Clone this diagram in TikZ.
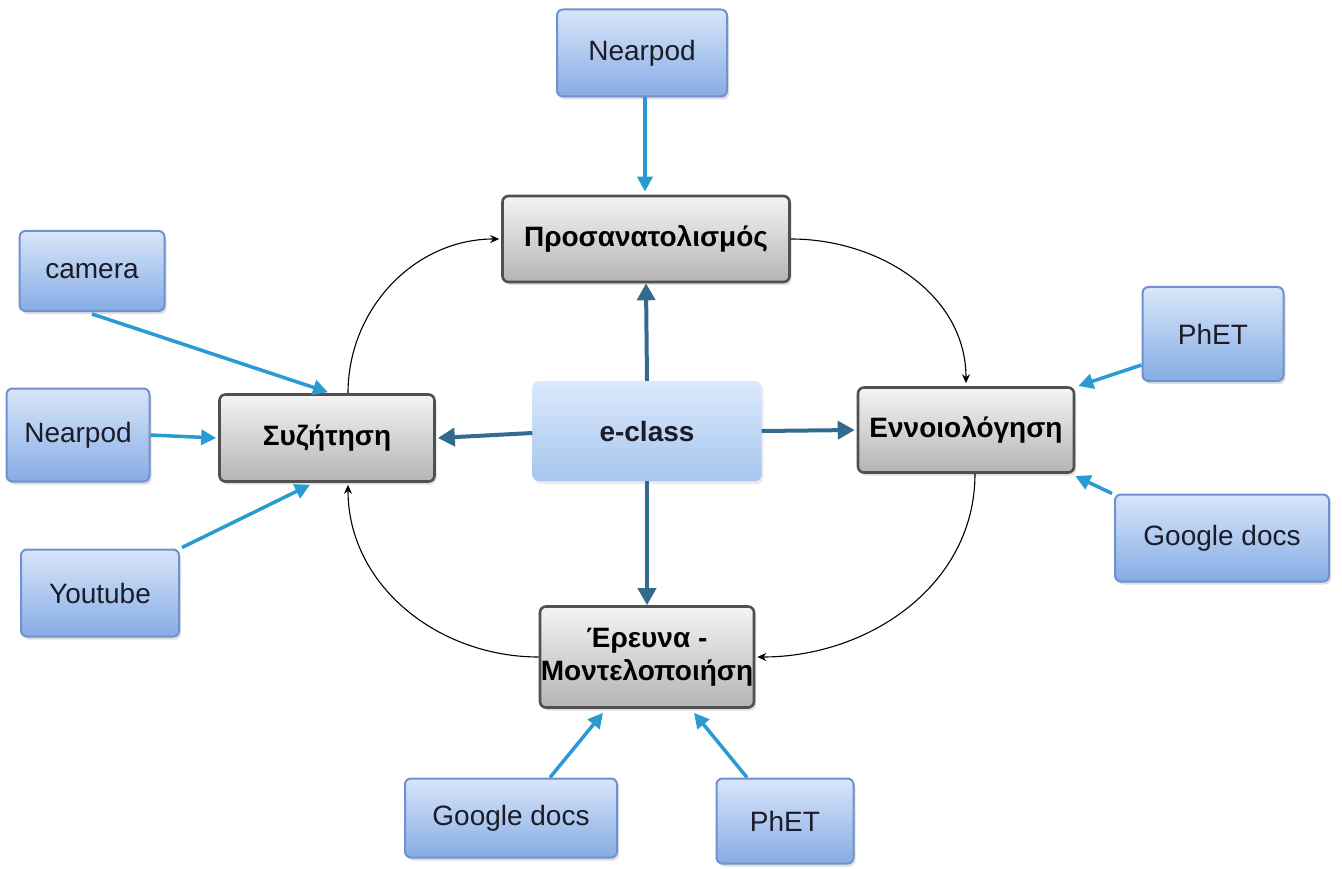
\documentclass[tikz,border=0pt]{standalone}
\usepackage{fontspec}
\setmainfont{Liberation Sans}
\usetikzlibrary{arrows.meta,shadows}
\definecolor{toolTop}{HTML}{D8E6FA}
\definecolor{toolBot}{HTML}{86ACE4}
\definecolor{toolBorder}{HTML}{6E92CC}
\definecolor{phaseTop}{HTML}{F4F4F4}
\definecolor{phaseBot}{HTML}{B4B4B4}
\definecolor{phaseBorder}{HTML}{505050}
\definecolor{hubTop}{HTML}{DCE9FC}
\definecolor{hubBot}{HTML}{A6C5EE}
\definecolor{lightArrow}{HTML}{2A9BD2}
\definecolor{darkArrow}{HTML}{336B8F}
\definecolor{txt}{HTML}{1C1C28}
\begin{document}
\begin{tikzpicture}[x=1pt,y=-1pt,
  tool/.style={draw=toolBorder, line width=2pt, rounded corners=6pt,
    top color=toolTop, bottom color=toolBot, text=txt,
    font=\fontsize{28}{32}\selectfont, inner sep=0pt,
    drop shadow={shadow xshift=2pt, shadow yshift=-3pt, opacity=0.25}},
  phase/.style={draw=phaseBorder, line width=2.6pt, rounded corners=6pt,
    top color=phaseTop, bottom color=phaseBot, text=black,
    font=\bfseries\fontsize{28}{33}\selectfont, inner sep=0pt, align=center,
    drop shadow={shadow xshift=2pt, shadow yshift=-3pt, opacity=0.25}},
  hub/.style={rounded corners=6pt, top color=hubTop, bottom color=hubBot,
    text=txt, font=\bfseries\fontsize{28}{32}\selectfont, inner sep=0pt,
    drop shadow={shadow xshift=2pt, shadow yshift=-3pt, opacity=0.15}},
  feed/.style={draw=lightArrow, line width=3.5pt, -{Triangle[length=15pt,width=15pt]}},
  spoke/.style={draw=darkArrow, line width=4pt, -{Triangle[length=17pt,width=18pt]}},
  cycle/.style={draw=black, line width=1.1pt, -{Stealth[length=9pt,width=8pt]}}
]
\useasboundingbox (0,0) rectangle (1342,869);

% phases
\node[phase, minimum width=287pt, minimum height=86pt] (pros) at (646,239) {Προσανατολισμός};
\node[phase, minimum width=215pt, minimum height=87pt] (syz) at (327,438) {Συζήτηση};
\node[phase, minimum width=216pt, minimum height=85pt] (enn) at (966,430) {Εννοιολόγηση};
\node[phase, minimum width=214pt, minimum height=101pt] (ere) at (647,657) {Έρευνα -\\Μοντελοποιήση};

% hub
\node[hub, minimum width=229pt, minimum height=100pt] (ecl) at (647,431) {e-class};

% tools
\node[tool, minimum width=170pt, minimum height=87pt] (near1) at (642,53) {Nearpod};
\node[tool, minimum width=145pt, minimum height=80pt] (cam) at (92,271) {camera};
\node[tool, minimum width=143pt, minimum height=93pt] (near2) at (78,435) {Nearpod};
\node[tool, minimum width=158pt, minimum height=87pt] (yt) at (100,593) {Youtube};
\node[tool, minimum width=141pt, minimum height=94pt] (phet1) at (1213,334) {PhET};
\node[tool, minimum width=214pt, minimum height=87pt] (gd1) at (1222,538) {Google docs};
\node[tool, minimum width=212pt, minimum height=79pt] (gd2) at (511,818) {Google docs};
\node[tool, minimum width=137pt, minimum height=85pt] (phet2) at (785,821) {PhET};

% feed arrows
\draw[feed] ([xshift=3pt]near1.south) -- ([xshift=-1pt,yshift=3pt]pros.north);
\draw[feed] ([yshift=-2pt]cam.south) -- ([xshift=1pt,yshift=1pt]syz.north);
\draw[feed] (near2.east) -- ([xshift=-2pt]syz.west);
\draw[feed] ([xshift=82pt,yshift=1pt]yt.north) -- ([xshift=-17pt,yshift=-2pt]syz.south);
\draw[feed] ([yshift=-31pt]phet1.west) -- ([xshift=3pt,yshift=44pt]enn.east);
\draw[feed] ([xshift=-110pt]gd1.north) -- ([yshift=-46pt]enn.east);
\draw[feed] ([xshift=39pt]gd2.north) -- ([xshift=-44pt,yshift=-4pt]ere.south);
\draw[feed] ([xshift=-38pt]phet2.north) -- ([xshift=47pt,yshift=-4pt]ere.south);

% spokes
\draw[spoke] (ecl.north) -- (pros.south);
\draw[spoke] ([yshift=-2pt]ecl.west) -- ([xshift=2pt]syz.east);
\draw[spoke] (ecl.east) -- ([xshift=-2pt]enn.west);
\draw[spoke] (ecl.south) -- (ere.north);

% cycle
\draw[cycle] ([xshift=21pt]syz.north) to[out=90,in=180] ([xshift=-2pt]pros.west);
\draw[cycle] (pros.east) to[out=0,in=90] ([yshift=3pt]enn.north);
\draw[cycle] ([xshift=9pt]enn.south) to[out=-90,in=0] ([xshift=2pt]ere.east);
\draw[cycle] (ere.west) to[out=180,in=-90] ([xshift=21pt,yshift=-2pt]syz.south);
\end{tikzpicture}
\end{document}
